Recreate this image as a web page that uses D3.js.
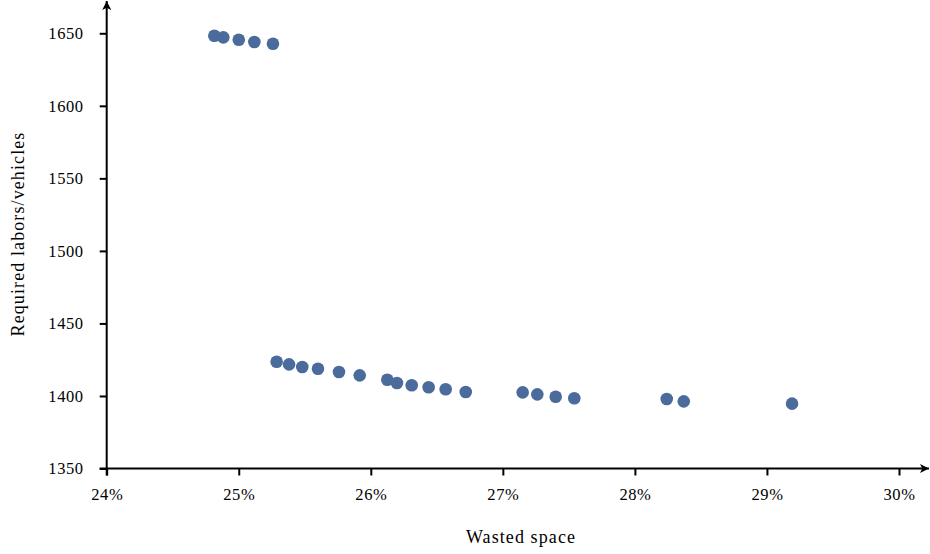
<!DOCTYPE html>
<html>
<head>
  <meta charset="utf-8">
  <title>Wasted space vs required labors</title>
  <style>
    body { margin: 0; background: #fff; }
    text { font-family: "Liberation Serif", "DejaVu Serif", serif; fill: #000; }
    .axis path, .axis line { stroke: #000; stroke-width: 2; }
  </style>
  <script src="https://d3js.org/d3.v7.min.js"></script>
</head>
<body>
  <script>
    // wasted space (%) and required labors/vehicles
    var wasted = [24.815, 24.883, 25.000, 25.118, 25.259,
                  25.287, 25.381, 25.481, 25.600, 25.759, 25.916,
                  26.125, 26.198, 26.310, 26.438, 26.567, 26.719,
                  27.150, 27.261, 27.400, 27.541, 28.241, 28.370, 29.190];
    var labors = [1648.3, 1647.2, 1645.6, 1644.0, 1642.8,
                  1423.6, 1421.8, 1420.0, 1418.8, 1416.5, 1414.2,
                  1411.2, 1408.9, 1407.4, 1406.0, 1404.6, 1402.7,
                  1402.5, 1401.1, 1399.5, 1398.4, 1397.9, 1396.3, 1394.7];
    var xTicks = [24, 25, 26, 27, 28, 29, 30];
    var yTicks = [1350, 1400, 1450, 1500, 1550, 1600, 1650];

    var width = 930, height = 554;
    var mLeft = 106.7, mRight = 899, mTop = 33.3, mBottom = 468.5;
    var serif = '"Liberation Serif", "DejaVu Serif", serif';

    var svg = d3.select('body').append('svg')
      .attr('width', width)
      .attr('height', height);

    var x = d3.scaleLinear().domain([24, 30]).range([mLeft, mRight]);
    var y = d3.scaleLinear().domain([1350, 1650]).range([mBottom, mTop]);

    svg.append('defs').append('marker')
      .attr('id', 'arrow')
      .attr('viewBox', '0 0 10 10')
      .attr('refX', 10).attr('refY', 5)
      .attr('markerWidth', 10).attr('markerHeight', 9)
      .attr('markerUnits', 'userSpaceOnUse')
      .attr('orient', 'auto')
      .append('path')
        .attr('d', 'M0,0 L10,5 L0,10 L2.5,5 Z')
        .attr('fill', '#000');

    // x axis
    var gx = svg.append('g')
      .attr('class', 'axis')
      .attr('transform', 'translate(0,' + y(1350) + ')')
      .call(d3.axisBottom(x).tickValues(xTicks).tickSize(7).tickPadding(13)
        .tickFormat(d => d + '%'));
    gx.attr('font-family', null).attr('font-size', null);
    gx.select('.domain').remove();
    gx.selectAll('text').style('font-size', '16.5px').style('font-family', serif)
      .style('letter-spacing', '0.6px');
    gx.append('line')
      .attr('x1', x(24) - 7).attr('x2', 929)
      .attr('stroke', '#000').attr('stroke-width', 2)
      .attr('marker-end', 'url(#arrow)');

    // y axis
    var gy = svg.append('g')
      .attr('class', 'axis')
      .attr('transform', 'translate(' + x(24) + ',0)')
      .call(d3.axisLeft(y).tickValues(yTicks).tickSize(7).tickPadding(16)
        .tickFormat(d3.format('d')));
    gy.attr('font-family', null).attr('font-size', null);
    gy.select('.domain').remove();
    gy.selectAll('text').style('font-size', '16.5px').style('font-family', serif)
      .style('letter-spacing', '0.6px');
    gy.append('line')
      .attr('y1', y(1350) + 7).attr('y2', 1)
      .attr('stroke', '#000').attr('stroke-width', 2)
      .attr('marker-end', 'url(#arrow)');

    svg.append('g')
      .selectAll('circle')
      .data(wasted)
      .enter()
      .append('circle')
        .attr('cx', d => x(d))
        .attr('cy', (d, i) => y(labors[i]))
        .attr('r', 6.3)
        .attr('fill', '#4a6b9c');

    svg.append('text')
      .attr('x', 521)
      .attr('y', 543)
      .attr('text-anchor', 'middle')
      .style('font-size', '18px')
      .style('letter-spacing', '1.1px')
      .text('Wasted space');

    svg.append('text')
      .attr('transform', 'translate(24,234) rotate(-90)')
      .attr('text-anchor', 'middle')
      .style('font-size', '18px')
      .style('letter-spacing', '1.1px')
      .text('Required labors/vehicles');
  </script>
</body>
</html>
